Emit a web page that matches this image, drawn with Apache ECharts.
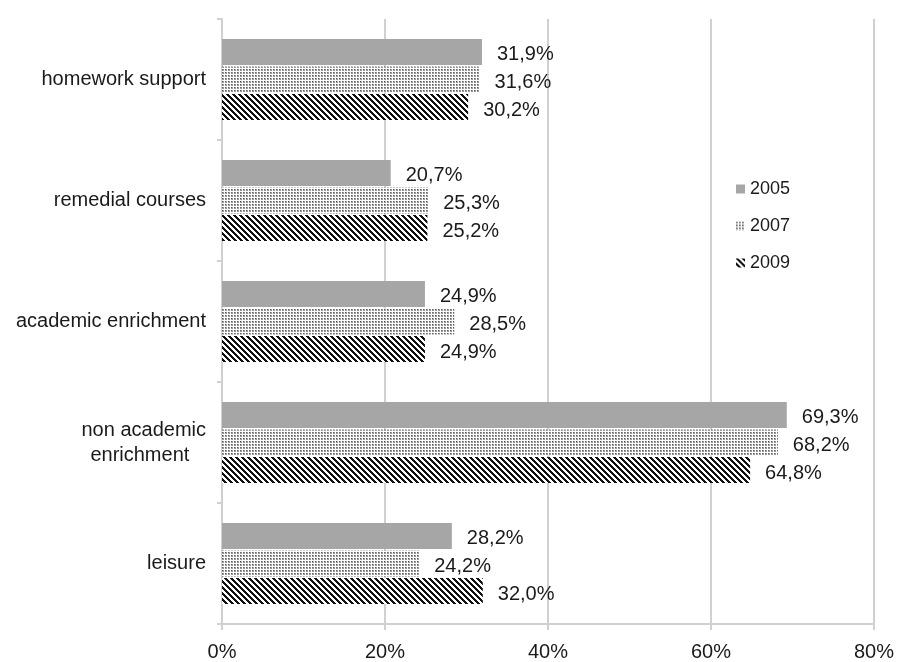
<!DOCTYPE html>
<html>
<head>
<meta charset="utf-8">
<script src="https://cdn.jsdelivr.net/npm/echarts@6/dist/echarts.min.js"></script>
<style>
  html, body { margin: 0; padding: 0; background: #fff; }
  #chart { width: 898px; height: 662px; }
</style>
</head>
<body>
<div id="chart"></div>
<script>
const categories = ['homework support', 'remedial courses', 'academic enrichment', 'non academic\nenrichment   ', 'leisure']
const years = ['2005', '2007', '2009']
const values2005 = [31.9, 20.7, 24.9, 69.3, 28.2]
const values2007 = [31.6, 25.3, 28.5, 68.2, 24.2]
const values2009 = [30.2, 25.2, 24.9, 64.8, 32.0]
const xTicks = [0, 20, 40, 60, 80]

const FONT = '"Liberation Sans", Arial, sans-serif'
const GRID_COLOR = '#d0d0d0'

// small canvases used as repeating fills
const dotPattern = () => {
  const c = document.createElement('canvas')
  c.width = 3
  c.height = 3
  const ctx = c.getContext('2d')
  ctx.fillStyle = '#ffffff'
  ctx.fillRect(0, 0, 3, 3)
  ctx.fillStyle = '#999999'
  ctx.fillRect(0, 0, 2, 2)
  ctx.fillStyle = '#5e5e5e'
  ctx.fillRect(0, 0, 1, 1)
  return c
}

const stripePattern = () => {
  const n = 6
  const c = document.createElement('canvas')
  c.width = n
  c.height = n
  const ctx = c.getContext('2d')
  for (let x = 0; x < n; x++) {
    for (let y = 0; y < n; y++) {
      const k = ((x - y) % n + n) % n
      ctx.fillStyle = k < 3 ? '#111111' : '#ffffff'
      ctx.fillRect(x, y, 1, 1)
    }
  }
  return c
}

const fills = [
  '#a6a6a6',
  { image: dotPattern(), repeat: 'repeat' },
  { image: stripePattern(), repeat: 'repeat' }
]

const seriesData = [values2005, values2007, values2009]

const chart = echarts.init(document.getElementById('chart'), null, { renderer: 'canvas' })

chart.setOption({
  animation: false,
  backgroundColor: '#ffffff',
  grid: { left: 222, right: 24, top: 19, bottom: 36 },
  legend: {
    orient: 'vertical',
    left: 731,
    top: 175,
    itemWidth: 9,
    itemHeight: 9,
    itemGap: 19,
    icon: 'rect',
    data: years,
    textStyle: { fontFamily: FONT, fontSize: 18, color: '#1a1a1a' }
  },
  xAxis: {
    type: 'value',
    min: xTicks[0],
    max: xTicks[xTicks.length - 1],
    interval: 20,
    axisLine: { show: true, lineStyle: { color: GRID_COLOR, width: 2 } },
    axisTick: { show: true, length: 6, lineStyle: { color: GRID_COLOR, width: 2 } },
    splitLine: { show: true, lineStyle: { color: GRID_COLOR, width: 2 } },
    axisLabel: {
      formatter: v => v + '%',
      margin: 18,
      fontFamily: FONT,
      fontSize: 20,
      color: '#1a1a1a'
    }
  },
  yAxis: {
    type: 'category',
    inverse: true,
    data: categories,
    axisLine: { show: true, lineStyle: { color: GRID_COLOR, width: 2 } },
    axisTick: { show: true, length: 5, lineStyle: { color: GRID_COLOR, width: 2 } },
    axisLabel: {
      margin: 16,
      fontFamily: FONT,
      fontSize: 20,
      lineHeight: 25,
      padding: [4, 0, 0, 0],
      color: '#1a1a1a'
    }
  },
  series: years.map((name, i) => ({
    name: name,
    type: 'bar',
    data: seriesData[i],
    barWidth: 26,
    barGap: '6%',
    itemStyle: { color: fills[i] },
    label: {
      show: true,
      position: 'right',
      distance: 15,
      offset: [0, 3],
      formatter: p => p.value.toFixed(1).replace('.', ',') + '%',
      fontFamily: FONT,
      fontSize: 20,
      color: '#1a1a1a'
    }
  }))
})
</script>
</body>
</html>
